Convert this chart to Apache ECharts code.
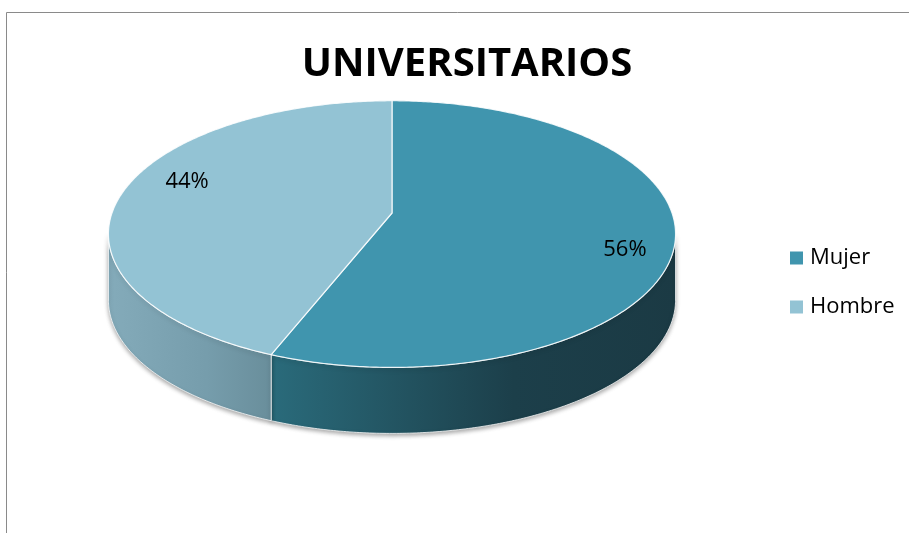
<!DOCTYPE html>
<html>
<head>
<meta charset="utf-8">
<script src="https://cdn.jsdelivr.net/npm/echarts@6/dist/echarts.min.js"></script>
<style>
    html, body { margin: 0; padding: 0; background: #fff; }
    #chart { width: 909px; height: 533px; }
</style>
</head>
<body>
<div id="chart"></div>
<script>
//======================================================================================================================
// Data
//======================================================================================================================

var categories = ['Mujer', 'Hombre'];
var values = [56, 44];
var labels = ['56%', '44%'];

var topColors = ['#4095AE', '#93C3D4'];
var sideColors = [['#2A6B7B', '#1C3F4A', '#1B3A44'], ['#84ABBA', '#769DAC', '#698E9B']];

//======================================================================================================================
// 3D pie geometry (perspective ellipse, clockwise from 12 o'clock)
//======================================================================================================================

var total = values.reduce(function(a, b) { return a + b; }, 0);
var pie = { cx: 392, cy: 213, r: 280, b: 130, k: 0.158, depth: 66 };
var labelPos = { fx: 0.796, fy: 1.39, dx: 14, dy: 3 };

function project(t, h) {
    var u = Math.sin(t), v = -Math.cos(t);
    var s = 1 / (1 - pie.k * v);
    return [pie.cx + pie.r * u * s, pie.cy + pie.b * v * s + (h || 0)];
}

function arc(a0, a1, h) {
    var pts = [];
    var n = Math.max(2, Math.ceil((a1 - a0) / 0.01));
    for (var i = 0; i <= n; i++) {
        pts.push(project(a0 + (a1 - a0) * i / n, h));
    }
    return pts;
}

// visible outer wall lies between the two silhouette angles
var front0 = Math.acos(-pie.k);
var front1 = 2 * Math.PI - front0;

function renderSlice(params, api) {
    var idx = params.seriesIndex;
    var before = 0;
    for (var i = 0; i < idx; i++) before += values[i];
    var a0 = before / total * 2 * Math.PI;
    var a1 = a0 + api.value(0) / total * 2 * Math.PI;
    var children = [];

    var s0 = Math.max(a0, front0), s1 = Math.min(a1, front1);
    if (s1 > s0) {
        children.push({
            type: 'polygon',
            z2: 1,
            shape: { points: arc(s0, s1, 0).concat(arc(s0, s1, pie.depth).reverse()) },
            style: {
                fill: new echarts.graphic.LinearGradient(0, 0, 1, 0, [
                    { offset: 0, color: sideColors[idx][0] },
                    { offset: 0.6, color: sideColors[idx][1] },
                    { offset: 1, color: sideColors[idx][2] }
                ]),
                stroke: 'rgba(255,255,255,0.75)',
                lineWidth: 1,
                shadowBlur: 4,
                shadowOffsetY: 2,
                shadowColor: 'rgba(0,0,0,0.35)'
            }
        });
    }

    children.push({
        type: 'polygon',
        z2: 2,
        shape: { points: [[pie.cx, pie.cy]].concat(arc(a0, a1, 0)) },
        style: {
            fill: topColors[idx],
            stroke: 'rgba(255,255,255,0.85)',
            lineWidth: 1.2
        }
    });

    var mid = (a0 + a1) / 2;
    children.push({
        type: 'text',
        z2: 3,
        x: pie.cx + labelPos.dx + labelPos.fx * pie.r * Math.sin(mid),
        y: pie.cy + labelPos.dy - labelPos.fy * pie.b * Math.cos(mid),
        style: {
            text: labels[idx],
            fill: '#000',
            font: '22px "Open Sans"',
            align: 'center',
            verticalAlign: 'middle'
        }
    });

    return { type: 'group', children: children };
}

//======================================================================================================================
// Chart
//======================================================================================================================

var chart = echarts.init(document.getElementById('chart'), null, { renderer: 'canvas' });

chart.setOption({
    backgroundColor: '#fff',
    animation: false,
    title: {
        text: 'UNIVERSITARIOS',
        left: 462,
        textAlign: 'center',
        top: 40,
        textStyle: { fontFamily: 'Open Sans', fontWeight: 'bold', fontSize: 40, color: '#000' }
    },
    legend: {
        orient: 'vertical',
        left: 785,
        top: 242,
        icon: 'rect',
        itemWidth: 13,
        itemHeight: 13,
        itemGap: 27,
        data: categories,
        textStyle: { fontFamily: 'Open Sans', fontSize: 22, lineHeight: 22, color: '#000', padding: [0, 0, 0, 2] }
    },
    graphic: [{
        type: 'polyline',
        shape: { points: [[6.5, 533], [6.5, 12.5], [909, 12.5]] },
        style: { stroke: '#8a8a8a', lineWidth: 1, fill: null }
    }],
    series: categories.map(function(name, i) {
        return {
            type: 'custom',
            name: name,
            coordinateSystem: 'none',
            itemStyle: { color: topColors[i] },
            renderItem: renderSlice,
            data: [[values[i]]]
        };
    })
});
</script>
</body>
</html>
